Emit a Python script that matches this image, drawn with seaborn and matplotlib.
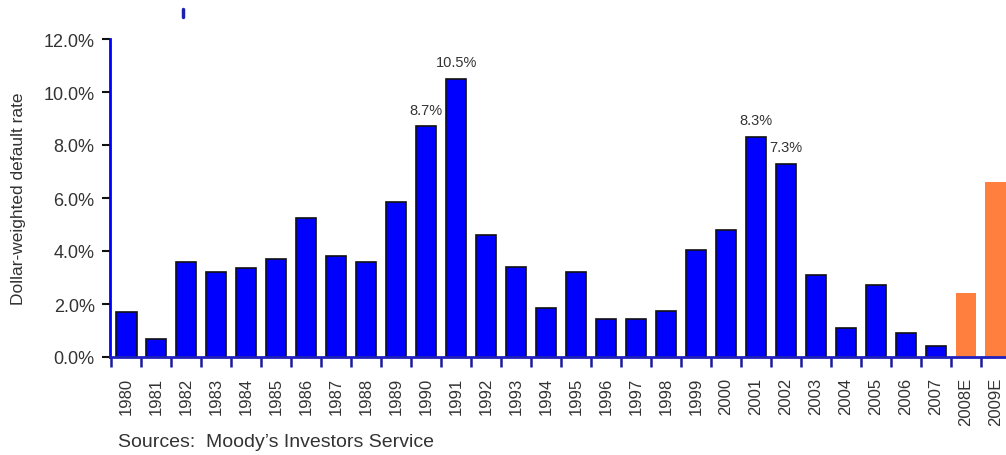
import matplotlib
matplotlib.use("Agg")
import matplotlib.pyplot as plt
import seaborn as sns
import pandas as pd
from matplotlib.ticker import FixedLocator, FuncFormatter
from matplotlib.lines import Line2D

years = ["1980", "1981", "1982", "1983", "1984", "1985", "1986", "1987", "1988", "1989",
         "1990", "1991", "1992", "1993", "1994", "1995", "1996", "1997", "1998", "1999",
         "2000", "2001", "2002", "2003", "2004", "2005", "2006", "2007", "2008E", "2009E"]
rates = [1.7, 0.68, 3.6, 3.2, 3.35, 3.7, 5.25, 3.8, 3.6, 5.85,
         8.7, 10.5, 4.6, 3.4, 1.85, 3.2, 1.45, 1.45, 1.75, 4.05,
         4.8, 8.3, 7.3, 3.1, 1.1, 2.7, 0.9, 0.4, 2.4, 6.6]
kind = ["Actual"] * 28 + ["Estimate"] * 2
labelled = {"1990": "8.7%", "1991": "10.5%", "2001": "8.3%", "2002": "7.3%"}
y_ticks = [0, 2, 4, 6, 8, 10, 12]
ylabel = "Dollar-weighted default rate"
source = "Sources:  Moody\u2019s Investors Service"

blue = "#0000FF"
orange = "#FF7F3F"

df = pd.DataFrame({"year": years, "rate": rates, "kind": kind})

sns.set_style("white")
plt.rcParams["font.family"] = ["Liberation Sans", "DejaVu Sans"]

fig = plt.figure(figsize=(10.06, 4.56), dpi=100)
ax = fig.add_axes([110 / 1006, 1 - 358 / 456, 1 - 110 / 1006, (358 - 40) / 456])

sns.barplot(data=df, x="year", y="rate", hue="kind",
            palette={"Actual": blue, "Estimate": orange},
            width=0.67, legend=False, ax=ax, saturation=1, dodge=False)

for patch in ax.patches:
    fc = patch.get_facecolor()
    if fc[0] < 0.5:
        patch.set_edgecolor("#101010")
        patch.set_linewidth(1.2)
    else:
        patch.set_linewidth(0)

ax.set_xlim(-0.55, 29.35)
ax.set_ylim(0, 12)

for i, (y, v) in enumerate(zip(years, rates)):
    if y in labelled:
        ax.annotate(labelled[y], (i, v), xytext=(0, 7), textcoords="offset points",
                    ha="center", va="bottom", fontsize=10.5, color="#333333")

ax.yaxis.set_major_locator(FixedLocator(y_ticks))
ax.yaxis.set_major_formatter(FuncFormatter(lambda v, p: f"{v:.1f}%"))
ax.tick_params(axis="y", which="major", direction="out", length=6, width=1.5,
               color="#111111", labelsize=13, labelcolor="#333333", pad=5, left=True)

ax.set_xticks(range(len(years)))
ax.set_xticklabels(years, rotation=90, fontsize=12, color="#333333")
ax.tick_params(axis="x", which="major", length=0, pad=14)
ax.xaxis.set_minor_locator(FixedLocator([i + 0.5 for i in range(-1, len(years))]))
ax.tick_params(axis="x", which="minor", direction="out", length=7, width=1.8,
               color="#1a1aa0", bottom=True)

for s in ["top", "right"]:
    ax.spines[s].set_visible(False)
ax.spines["left"].set_color(blue)
ax.spines["left"].set_linewidth(2)
ax.spines["bottom"].set_color("#2020c0")
ax.spines["bottom"].set_linewidth(2)

ax.set_xlabel("")
ax.set_ylabel(ylabel, fontsize=12.5, color="#333333", va="center")
ax.yaxis.set_label_coords((19 - 110) / 896, 0.5)
ax.grid(False)

fig.text(118 / 1006, 1 - 443 / 456, source, fontsize=14, color="#333333",
         va="center", ha="left")

fig.add_artist(Line2D([183 / 1006, 183 / 1006], [1 - 18 / 456, 1 - 10 / 456],
                      color="#2020b0", linewidth=2.5))

fig.savefig("out.png", dpi=100, facecolor="white")
